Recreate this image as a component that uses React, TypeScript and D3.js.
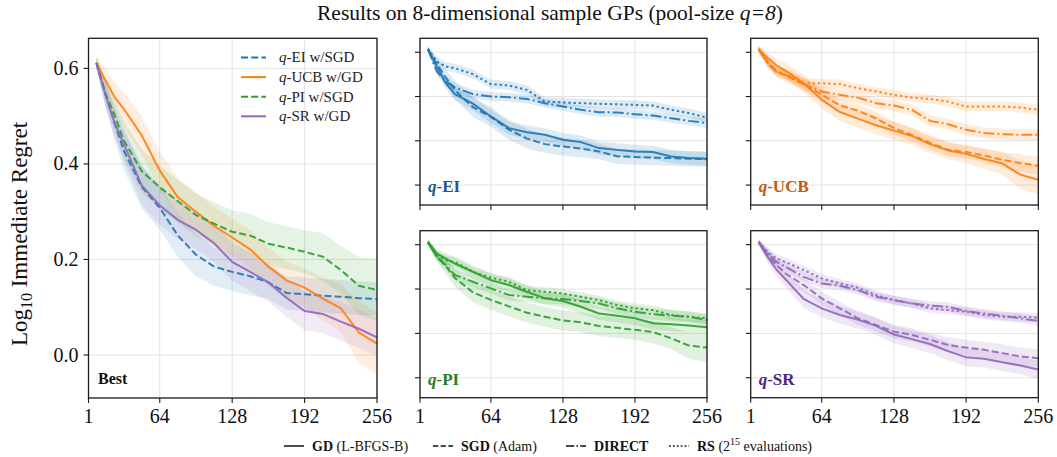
import React from 'react';
import * as d3 from 'd3';

// ---------- data ----------
const iters = [8, 16, 24, 32, 48, 64, 80, 96, 112, 128, 144, 160, 176, 192, 208, 224, 240, 256];
const xTicks = [1, 64, 128, 192, 256];
const yTicks = [0, 0.2, 0.4, 0.6];
const yTickLabels = ['0.0', '0.2', '0.4', '0.6'];

// q-EI
const eiGD = [0.615, 0.535, 0.460, 0.411, 0.368, 0.310, 0.257, 0.239, 0.227, 0.205, 0.194, 0.167, 0.159, 0.152, 0.149, 0.129, 0.122, 0.119];
const eiGDErr = [0.012, 0.02, 0.025, 0.028, 0.03, 0.03, 0.03, 0.03, 0.03, 0.03, 0.03, 0.03, 0.03, 0.03, 0.03, 0.03, 0.03, 0.03];
const eiSGD = [0.612, 0.546, 0.486, 0.429, 0.352, 0.308, 0.250, 0.210, 0.185, 0.174, 0.165, 0.152, 0.130, 0.127, 0.124, 0.122, 0.119, 0.117];
const eiSGDErr = [0.012, 0.025, 0.035, 0.04, 0.045, 0.045, 0.045, 0.045, 0.04, 0.04, 0.04, 0.035, 0.035, 0.035, 0.035, 0.035, 0.035, 0.035];
const eiDIRECT = [0.615, 0.513, 0.468, 0.441, 0.411, 0.400, 0.397, 0.389, 0.370, 0.355, 0.340, 0.329, 0.328, 0.320, 0.314, 0.302, 0.290, 0.280];
const eiDIRECTErr = [0.012, 0.02, 0.02, 0.02, 0.02, 0.02, 0.02, 0.02, 0.02, 0.02, 0.02, 0.02, 0.02, 0.02, 0.02, 0.02, 0.02, 0.022];
const eiRS = [0.615, 0.558, 0.535, 0.528, 0.501, 0.456, 0.450, 0.430, 0.377, 0.373, 0.370, 0.367, 0.365, 0.362, 0.359, 0.340, 0.325, 0.305];
const eiRSErr = [0.012, 0.02, 0.02, 0.02, 0.02, 0.02, 0.02, 0.02, 0.02, 0.02, 0.02, 0.02, 0.02, 0.02, 0.02, 0.02, 0.02, 0.022];

// q-UCB
const ucbGD = [0.612, 0.575, 0.540, 0.516, 0.460, 0.386, 0.330, 0.300, 0.270, 0.246, 0.221, 0.185, 0.156, 0.141, 0.118, 0.098, 0.047, 0.024];
const ucbGDErr = [0.015, 0.025, 0.03, 0.035, 0.04, 0.04, 0.04, 0.04, 0.04, 0.04, 0.04, 0.04, 0.04, 0.04, 0.045, 0.05, 0.065, 0.065];
const ucbSGD = [0.615, 0.558, 0.514, 0.495, 0.456, 0.408, 0.360, 0.336, 0.302, 0.257, 0.227, 0.190, 0.160, 0.149, 0.134, 0.114, 0.099, 0.087];
const ucbSGDErr = [0.015, 0.02, 0.025, 0.03, 0.03, 0.03, 0.03, 0.03, 0.03, 0.03, 0.03, 0.03, 0.03, 0.03, 0.03, 0.035, 0.04, 0.04];
const ucbDIRECT = [0.615, 0.550, 0.510, 0.498, 0.456, 0.423, 0.408, 0.395, 0.370, 0.359, 0.340, 0.290, 0.275, 0.250, 0.235, 0.230, 0.227, 0.227];
const ucbDIRECTErr = [0.015, 0.02, 0.02, 0.02, 0.025, 0.025, 0.025, 0.025, 0.025, 0.025, 0.025, 0.025, 0.025, 0.025, 0.025, 0.025, 0.025, 0.025];
const ucbRS = [0.615, 0.550, 0.513, 0.498, 0.460, 0.460, 0.456, 0.438, 0.423, 0.408, 0.395, 0.389, 0.377, 0.355, 0.355, 0.355, 0.350, 0.340];
const ucbRSErr = [0.015, 0.02, 0.02, 0.02, 0.02, 0.02, 0.02, 0.02, 0.02, 0.02, 0.02, 0.02, 0.022, 0.022, 0.022, 0.022, 0.022, 0.022];

// q-PI
const piGD = [0.612, 0.560, 0.537, 0.515, 0.478, 0.440, 0.418, 0.388, 0.358, 0.346, 0.320, 0.290, 0.280, 0.268, 0.246, 0.241, 0.235, 0.228];
const piGDErr = [0.012, 0.02, 0.025, 0.03, 0.03, 0.03, 0.03, 0.03, 0.03, 0.03, 0.03, 0.03, 0.03, 0.03, 0.03, 0.03, 0.03, 0.03];
const piSGD = [0.611, 0.547, 0.503, 0.450, 0.385, 0.351, 0.322, 0.293, 0.275, 0.258, 0.250, 0.233, 0.225, 0.216, 0.206, 0.178, 0.145, 0.136];
const piSGDErr = [0.012, 0.025, 0.035, 0.04, 0.045, 0.045, 0.045, 0.045, 0.045, 0.045, 0.045, 0.045, 0.045, 0.045, 0.05, 0.05, 0.06, 0.065];
const piDIRECT = [0.612, 0.545, 0.507, 0.463, 0.433, 0.403, 0.373, 0.365, 0.358, 0.355, 0.346, 0.335, 0.313, 0.298, 0.286, 0.280, 0.275, 0.260];
const piDIRECTErr = [0.012, 0.02, 0.02, 0.025, 0.025, 0.025, 0.025, 0.025, 0.025, 0.025, 0.025, 0.025, 0.025, 0.025, 0.025, 0.025, 0.025, 0.025];
const piRS = [0.612, 0.552, 0.530, 0.522, 0.478, 0.451, 0.433, 0.395, 0.388, 0.380, 0.365, 0.350, 0.328, 0.313, 0.305, 0.283, 0.275, 0.268];
const piRSErr = [0.012, 0.02, 0.02, 0.02, 0.02, 0.02, 0.02, 0.02, 0.02, 0.02, 0.02, 0.02, 0.02, 0.022, 0.022, 0.022, 0.022, 0.022];

// q-SR
const srGD = [0.611, 0.545, 0.486, 0.443, 0.355, 0.313, 0.283, 0.262, 0.234, 0.195, 0.174, 0.152, 0.120, 0.092, 0.086, 0.070, 0.055, 0.037];
const srGDErr = [0.012, 0.025, 0.03, 0.035, 0.04, 0.04, 0.04, 0.04, 0.04, 0.04, 0.04, 0.04, 0.04, 0.04, 0.04, 0.04, 0.04, 0.04];
const srSGD = [0.612, 0.552, 0.507, 0.470, 0.418, 0.358, 0.313, 0.268, 0.238, 0.208, 0.193, 0.171, 0.148, 0.136, 0.126, 0.111, 0.096, 0.088];
const srSGDErr = [0.012, 0.02, 0.025, 0.03, 0.03, 0.03, 0.03, 0.03, 0.03, 0.03, 0.03, 0.03, 0.035, 0.035, 0.035, 0.04, 0.04, 0.04];
const srDIRECT = [0.612, 0.560, 0.522, 0.500, 0.455, 0.425, 0.415, 0.395, 0.365, 0.350, 0.335, 0.325, 0.320, 0.301, 0.290, 0.280, 0.268, 0.256];
const srDIRECTErr = [0.012, 0.02, 0.02, 0.02, 0.02, 0.02, 0.02, 0.02, 0.02, 0.02, 0.02, 0.02, 0.02, 0.02, 0.02, 0.02, 0.02, 0.02];
const srRS = [0.612, 0.567, 0.537, 0.522, 0.485, 0.448, 0.425, 0.406, 0.373, 0.350, 0.335, 0.313, 0.305, 0.298, 0.283, 0.275, 0.275, 0.271];
const srRSErr = [0.012, 0.02, 0.02, 0.02, 0.02, 0.02, 0.02, 0.02, 0.02, 0.02, 0.02, 0.02, 0.02, 0.02, 0.02, 0.02, 0.02, 0.02];

const methodNames = ['GD', 'SGD', 'DIRECT', 'RS'];
const methodNotes = ['(L-BFGS-B)', '(Adam)', '', ''];

// ---------- styles ----------
const FONT = "'Liberation Serif', 'Times New Roman', serif";
const dashes: Record<string, string | undefined> = {
  GD: undefined,
  SGD: '7,3.2',
  DIRECT: '11,3,2,3',
  RS: '2.4,2.8',
};
const colors = {
  ei: '#1f77b4',
  ucb: '#ff7f0e',
  pi: '#2ca02c',
  sr: '#9467bd',
};
const labelColors = {
  ei: '#1c5796',
  ucb: '#c45a12',
  pi: '#2d7d24',
  sr: '#4f2580',
};

type Series = { vals: number[]; err: number[]; color: string; dash?: string };

const W = 1057;
const H = 457;
const yDomain: [number, number] = [-0.09, 0.663];

function Panel({
  x0, x1, y0, y1, series, xLabels, yLabels, bandOpacity,
}: {
  x0: number; x1: number; y0: number; y1: number; series: Series[];
  xLabels: boolean; yLabels: boolean; bandOpacity: number;
}) {
  const x = d3.scaleLinear().domain([1, 256]).range([x0, x1]);
  const y = d3.scaleLinear().domain(yDomain).range([y1, y0]);
  const line = d3.line<number>().x((_, i) => x(iters[i])).y((d) => y(d));
  return (
    <g>
      {xTicks.map((t) => (
        <line key={'gx' + t} x1={x(t)} x2={x(t)} y1={y0} y2={y1} stroke="#e3e3e3" strokeWidth={1} />
      ))}
      {yTicks.map((t) => (
        <line key={'gy' + t} x1={x0} x2={x1} y1={y(t)} y2={y(t)} stroke="#e3e3e3" strokeWidth={1} />
      ))}
      {series.map((s, k) => {
        const area = d3
          .area<number>()
          .x((_, i) => x(iters[i]))
          .y0((d, i) => y(d - s.err[i]))
          .y1((d, i) => y(d + s.err[i]));
        return <path key={'b' + k} d={area(s.vals) || ''} fill={s.color} opacity={bandOpacity} />;
      })}
      {series.map((s, k) => (
        <path
          key={'l' + k}
          d={line(s.vals) || ''}
          fill="none"
          stroke={s.color}
          strokeWidth={2}
          strokeDasharray={s.dash}
          opacity={0.92}
        />
      ))}
      <rect x={x0} y={y0} width={x1 - x0} height={y1 - y0} fill="none" stroke="#1a1a1a" strokeWidth={1.3} />
      {xTicks.map((t) => (
        <g key={'tx' + t}>
          <line x1={x(t)} x2={x(t)} y1={y1} y2={y1 + 5} stroke="#1a1a1a" strokeWidth={1.1} />
          {xLabels && (
            <text x={x(t)} y={y1 + 25} textAnchor="middle" fontSize={20} fontFamily={FONT} fill="#111">
              {t}
            </text>
          )}
        </g>
      ))}
      {yTicks.map((t, i) => (
        <g key={'ty' + t}>
          <line x1={x0 - 5} x2={x0} y1={y(t)} y2={y(t)} stroke="#1a1a1a" strokeWidth={1.1} />
          {yLabels && (
            <text x={x0 - 10} y={y(t) + 6.5} textAnchor="end" fontSize={20} fontFamily={FONT} fill="#111">
              {yTickLabels[i]}
            </text>
          )}
        </g>
      ))}
    </g>
  );
}

function mk(vals: number[][], errs: number[][], color: string): Series[] {
  return methodNames.map((m, i) => ({ vals: vals[i], err: errs[i], color, dash: dashes[m] }));
}

export default function App() {
  const L = { x0: 88.5, x1: 377, y0: 38.3, y1: 398 };
  const colA = [420, 707];
  const colB = [750.7, 1038.3];
  const rowA = [38.3, 205];
  const rowB = [230.7, 397.7];

  const bestSeries: Series[] = [
    { vals: eiSGD, err: eiSGDErr, color: colors.ei, dash: dashes.SGD },
    { vals: ucbGD, err: ucbGDErr, color: colors.ucb, dash: dashes.GD },
    { vals: piSGD, err: piSGDErr, color: colors.pi, dash: dashes.SGD },
    { vals: srGD, err: srGDErr, color: colors.sr, dash: dashes.GD },
  ];
  const legendRows = [
    { name: '-EI w/SGD', color: colors.ei, dash: dashes.SGD },
    { name: '-UCB w/GD', color: colors.ucb, dash: dashes.GD },
    { name: '-PI w/SGD', color: colors.pi, dash: dashes.SGD },
    { name: '-SR w/GD', color: colors.sr, dash: dashes.GD },
  ];

  const small = [
    { key: 'ei', label: '-EI', col: colA, row: rowA, xl: false,
      s: mk([eiGD, eiSGD, eiDIRECT, eiRS], [eiGDErr, eiSGDErr, eiDIRECTErr, eiRSErr], colors.ei) },
    { key: 'ucb', label: '-UCB', col: colB, row: rowA, xl: false,
      s: mk([ucbGD, ucbSGD, ucbDIRECT, ucbRS], [ucbGDErr, ucbSGDErr, ucbDIRECTErr, ucbRSErr], colors.ucb) },
    { key: 'pi', label: '-PI', col: colA, row: rowB, xl: true,
      s: mk([piGD, piSGD, piDIRECT, piRS], [piGDErr, piSGDErr, piDIRECTErr, piRSErr], colors.pi) },
    { key: 'sr', label: '-SR', col: colB, row: rowB, xl: true,
      s: mk([srGD, srSGD, srDIRECT, srRS], [srGDErr, srSGDErr, srDIRECTErr, srRSErr], colors.sr) },
  ];

  const legendItems = [
    { x: 284, tx: 312, name: methodNames[0], note: methodNotes[0], dash: dashes.GD },
    { x: 433, tx: 461, name: methodNames[1], note: methodNotes[1], dash: dashes.SGD },
    { x: 566, tx: 594, name: methodNames[2], note: methodNotes[2], dash: dashes.DIRECT },
    { x: 669, tx: 697, name: methodNames[3], note: methodNotes[3], dash: dashes.RS },
  ];

  return (
    <svg
      width={W}
      height={H}
      viewBox={`0 0 ${W} ${H}`}
      style={{ position: 'absolute', left: 0, top: 0, background: '#fff' }}
      fontFamily={FONT}
    >
      <rect x={0} y={0} width={W} height={H} fill="#fff" />
      <text x={550} y={20} textAnchor="middle" fontSize={21.5} fill="#111">
        Results on 8-dimensional sample GPs (pool-size <tspan fontStyle="italic">q=8</tspan>)
      </text>
      <text transform="translate(27,234) rotate(-90)" textAnchor="middle" fontSize={23} fill="#111">
        Log<tspan dy={5} fontSize={16}>10</tspan>
        <tspan dy={-5}> Immediate Regret</tspan>
      </text>

      <Panel {...L} series={bestSeries} xLabels yLabels bandOpacity={0.13} />
      <text x={98} y={384} fontSize={16} fontWeight="bold" fill="#111">Best</text>
      {legendRows.map((r, i) => (
        <g key={'lg' + i}>
          <line x1={241} x2={266} y1={57.5 + i * 19.6} y2={57.5 + i * 19.6} stroke={r.color} strokeWidth={2} strokeDasharray={r.dash} />
          <text x={279} y={62.3 + i * 19.6} fontSize={15} fill="#222">
            <tspan fontStyle="italic">q</tspan>{r.name}
          </text>
        </g>
      ))}

      {small.map((p) => (
        <g key={p.key}>
          <Panel x0={p.col[0]} x1={p.col[1]} y0={p.row[0]} y1={p.row[1]} series={p.s} xLabels={p.xl} yLabels={false} bandOpacity={0.15} />
          <text x={p.col[0] + 8} y={p.row[1] - 13} fontSize={17} fontWeight="bold" fill={(labelColors as any)[p.key]}>
            <tspan fontStyle="italic">q</tspan>{p.label}
          </text>
        </g>
      ))}

      {legendItems.map((it) => (
        <g key={'bl' + it.name}>
          <line x1={it.x} x2={it.x + 20} y1={446} y2={446} stroke="#111" strokeWidth={1.5} strokeDasharray={it.dash ? it.dash.split(',').map((v) => String(parseFloat(v) * 0.75)).join(',') : undefined} />
          <text x={it.tx} y={451} fontSize={14} fill="#111">
            <tspan fontWeight="bold">{it.name}</tspan>
            {it.note ? ' ' + it.note : ''}
            {it.name === 'RS' ? (
              <>
                <tspan> (2</tspan>
                <tspan dy={-6} fontSize={10}>15</tspan>
                <tspan dy={6}> evaluations)</tspan>
              </>
            ) : null}
          </text>
        </g>
      ))}
    </svg>
  );
}
